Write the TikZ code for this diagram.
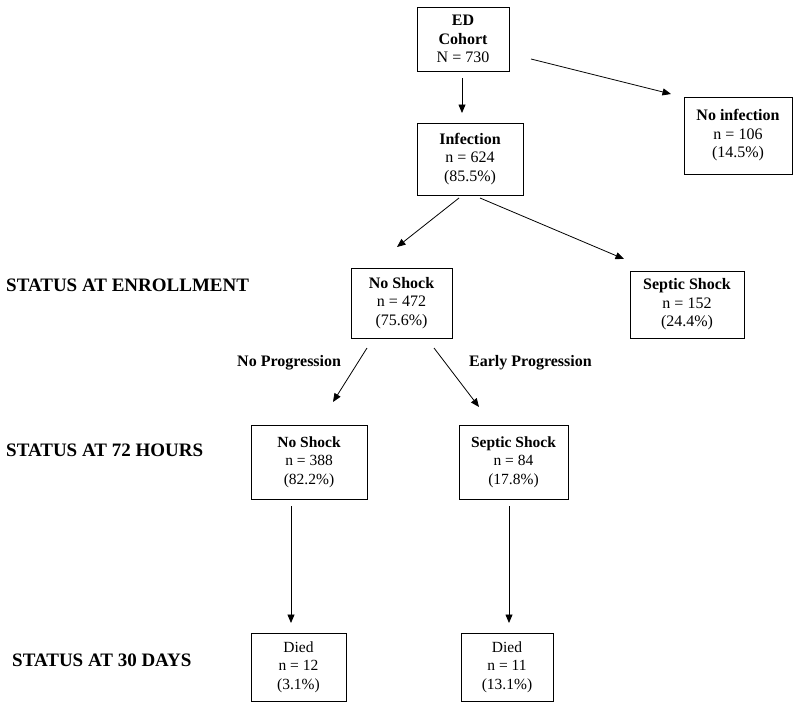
\documentclass[tikz,border=0pt]{standalone}
\usepackage{fontspec}
\setmainfont{Liberation Serif}
\usetikzlibrary{arrows.meta}
\tikzset{
  box/.style={draw, line width=0.9pt, align=center, inner sep=0pt,
    font=\fontsize{15.5}{18.5}\selectfont},
  bigbox/.style={box, font=\fontsize{16}{18.5}\selectfont},
  heading/.style={anchor=west, inner sep=0pt, font=\fontsize{19}{22}\selectfont\bfseries},
  branchlabel/.style={anchor=west, inner sep=0pt, font=\fontsize{16}{19}\selectfont\bfseries},
  flow/.style={line width=0.8pt, -{Triangle[length=8.5pt,width=7pt]}}
}
\begin{document}
\begin{tikzpicture}[x=1pt,y=-1pt]
\useasboundingbox (0,0) rectangle (800,709);
% boxes
\node[bigbox, minimum width=92pt, minimum height=64pt] (ed) at (463,39) {\textbf{ED}\\\textbf{Cohort}\\N = 730};
\node[bigbox, minimum width=106pt, minimum height=72pt] (inf) at (470,159) {\textbf{Infection}\\n = 624\\(85.5\%)};
\node[bigbox, minimum width=108pt, minimum height=77pt] (noinf) at (738,135.5) {\textbf{No infection}\\n = 106\\(14.5\%)};
\node[bigbox, minimum width=101pt, minimum height=70pt] (nsA) at (401.5,303) {\textbf{No Shock}\\n = 472\\(75.6\%)};
\node[bigbox, minimum width=114pt, minimum height=67pt] (ssA) at (687,304.5) {\textbf{Septic Shock}\\n = 152\\(24.4\%)};
\node[box, minimum width=116pt, minimum height=74pt] (nsB) at (309,462) {\textbf{No Shock}\\n = 388\\(82.2\%)};
\node[box, minimum width=109pt, minimum height=74pt] (ssB) at (513.5,462) {\textbf{Septic Shock}\\n = 84\\(17.8\%)};
\node[box, minimum width=95pt, minimum height=68pt] (diedA) at (298.5,667) {Died\\n = 12\\(3.1\%)};
\node[box, minimum width=92pt, minimum height=68pt] (diedB) at (507,667) {Died\\n = 11\\(13.1\%)};
% headings
\node[heading] (hEnroll) at (6,285) {STATUS AT ENROLLMENT};
\node[heading] (h72) at (6,450) {STATUS AT 72 HOURS};
\node[heading] (h30) at (12,660) {STATUS AT 30 DAYS};
% branch labels
\node[branchlabel] (lNoProg) at (237,363) {No Progression};
\node[branchlabel] (lEarly) at (469,363) {Early Progression};
% arrow end points
\coordinate (edS) at (462,78);   \coordinate (infN) at (462,113);
\coordinate (edE) at (531,59);   \coordinate (noinfW) at (671,94);
\coordinate (infSW) at (459,198); \coordinate (nsAN) at (397,247);
\coordinate (infSE) at (480,198); \coordinate (ssAN) at (624,259);
\coordinate (nsASW) at (367,348); \coordinate (nsBN) at (333,402);
\coordinate (nsASE) at (434,348); \coordinate (ssBN) at (479,407);
\coordinate (nsBS) at (291,506); \coordinate (diedAN) at (291,623);
\coordinate (ssBS) at (509,506); \coordinate (diedBN) at (509,623);
% connectors
\draw[flow] (edS) -- (infN);
\draw[flow] (edE) -- (noinfW);
\draw[flow] (infSW) -- (nsAN);
\draw[flow] (infSE) -- (ssAN);
\draw[flow] (nsASW) -- (nsBN);
\draw[flow] (nsASE) -- (ssBN);
\draw[flow] (nsBS) -- (diedAN);
\draw[flow] (ssBS) -- (diedBN);
\end{tikzpicture}
\end{document}
